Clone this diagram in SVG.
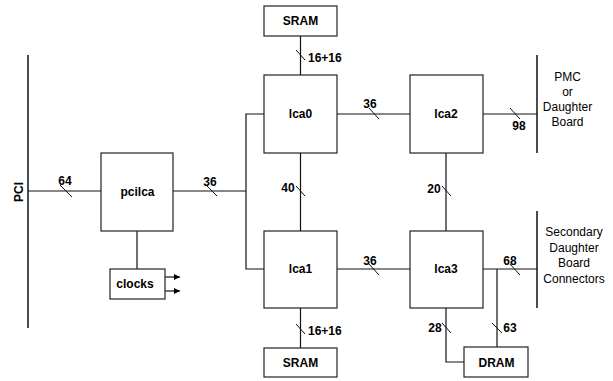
<svg xmlns="http://www.w3.org/2000/svg" width="613" height="381" viewBox="0 0 613 381">
<defs>
<style>
.box{fill:#fff;stroke:#222;stroke-width:1.2}
.ln{fill:none;stroke:#111;stroke-width:1.2}
.bar{fill:none;stroke:#111;stroke-width:1.5}
.tk{fill:none;stroke:#111;stroke-width:1}
.b{font-family:"Liberation Sans",Arial,sans-serif;font-weight:bold;font-size:12px;fill:#000}
.r{font-family:"Liberation Sans",Arial,sans-serif;font-size:12px;fill:#000;text-anchor:middle}
.m{text-anchor:middle}
</style>
<marker id="ah" viewBox="0 0 10 10" refX="10" refY="5" markerWidth="8" markerHeight="6" markerUnits="userSpaceOnUse" orient="auto">
<path d="M0,0 L10,5 L0,10 Z" fill="#000"/>
</marker>
</defs>
<rect width="613" height="381" fill="#fff"/>
<g id="connectors">
<line class="bar" x1="28" y1="55" x2="28" y2="328"/>
<line class="bar" x1="537" y1="55" x2="537" y2="153"/>
<line class="bar" x1="537" y1="211" x2="537" y2="308"/>
<line class="ln" x1="28" y1="191" x2="101" y2="191"/>
<line class="ln" x1="173" y1="191" x2="246" y2="191"/>
<polyline class="ln" points="264,114 246,114 246,269 264,269"/>
<line class="ln" x1="137" y1="231" x2="137" y2="269"/>
<line class="ln" x1="158" y1="277" x2="180" y2="277" marker-end="url(#ah)"/>
<line class="ln" x1="158" y1="291" x2="180" y2="291" marker-end="url(#ah)"/>
<line class="ln" x1="300.5" y1="36" x2="300.5" y2="75"/>
<line class="ln" x1="300.5" y1="153" x2="300.5" y2="231"/>
<line class="ln" x1="300.5" y1="308" x2="300.5" y2="348"/>
<line class="ln" x1="337" y1="114" x2="410" y2="114"/>
<line class="ln" x1="337" y1="269" x2="410" y2="269"/>
<line class="ln" x1="483" y1="114" x2="537" y2="114"/>
<line class="ln" x1="483" y1="269" x2="537" y2="269"/>
<line class="ln" x1="446" y1="153" x2="446" y2="231"/>
<polyline class="ln" points="446,308 446,362 464,362"/>
<line class="ln" x1="497" y1="269" x2="497" y2="347"/>
<!-- ticks -->
<line class="tk" x1="60" y1="185" x2="72" y2="197"/>
<line class="tk" x1="207" y1="186" x2="217" y2="196"/>
<line class="tk" x1="369" y1="108" x2="379" y2="119"/>
<line class="tk" x1="369" y1="264" x2="379" y2="275"/>
<line class="tk" x1="510" y1="108" x2="520" y2="119"/>
<line class="tk" x1="510" y1="264" x2="520" y2="275"/>
<line class="tk" x1="296" y1="50" x2="305" y2="60"/>
<line class="tk" x1="296" y1="324" x2="305" y2="334"/>
<line class="tk" x1="296" y1="186" x2="305" y2="196"/>
<line class="tk" x1="442" y1="186" x2="451" y2="196"/>
<line class="tk" x1="442" y1="323" x2="451" y2="333"/>
<line class="tk" x1="492" y1="323" x2="502" y2="333"/>
<!-- labels -->
<text class="b m" x="65" y="185">64</text>
<text class="b m" x="210" y="186">36</text>
<text class="b m" x="370" y="108">36</text>
<text class="b m" x="370" y="265">36</text>
<text class="b m" x="519" y="130">98</text>
<text class="b m" x="510" y="265">68</text>
<text class="b m" x="288" y="192">40</text>
<text class="b m" x="434" y="193">20</text>
<text class="b m" x="435" y="332">28</text>
<text class="b m" x="510" y="332">63</text>
<text class="b" x="308" y="62">16+16</text>
<text class="b" x="308" y="335">16+16</text>
</g>
<g id="pci"><text class="b m" transform="translate(23,192) rotate(-90)">PCI</text></g>
<g id="pcilca"><rect class="box" x="101" y="153" width="72" height="78"/><text class="b m" x="137.5" y="196">pcilca</text></g>
<g id="clocks"><rect class="box" x="110" y="269" width="55" height="30"/><text class="b m" x="135" y="288">clocks</text></g>
<g id="sram-top"><rect class="box" x="264" y="6" width="73" height="30"/><text class="b m" x="300.5" y="25">SRAM</text></g>
<g id="lca0"><rect class="box" x="264" y="75" width="73" height="78"/><text class="b m" x="300.5" y="118">lca0</text></g>
<g id="lca2"><rect class="box" x="410" y="75" width="73" height="78"/><text class="b m" x="446" y="118">lca2</text></g>
<g id="lca1"><rect class="box" x="264" y="231" width="73" height="77"/><text class="b m" x="300.5" y="273">lca1</text></g>
<g id="lca3"><rect class="box" x="410" y="231" width="73" height="77"/><text class="b m" x="446" y="273">lca3</text></g>
<g id="sram-bottom"><rect class="box" x="264" y="348" width="73" height="29"/><text class="b m" x="300.5" y="367">SRAM</text></g>
<g id="dram"><rect class="box" x="464" y="347" width="64" height="30"/><text class="b m" x="496.5" y="367">DRAM</text></g>
<g id="pmc"><text class="r"><tspan x="567.5" y="81">PMC</tspan><tspan x="567.5" y="96">or</tspan><tspan x="567.5" y="111">Daughter</tspan><tspan x="567.5" y="126">Board</tspan></text></g>
<g id="secondary"><text class="r"><tspan x="574" y="236">Secondary</tspan><tspan x="574" y="251.5">Daughter</tspan><tspan x="574" y="267">Board</tspan><tspan x="574" y="282.5">Connectors</tspan></text></g>
</svg>
